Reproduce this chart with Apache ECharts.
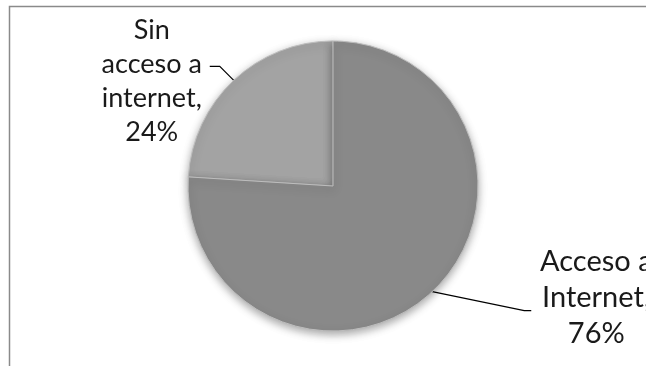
<!DOCTYPE html>
<html>
<head>
<meta charset="utf-8">
<script src="https://cdn.jsdelivr.net/npm/echarts@6/dist/echarts.min.js"></script>
<style>
  html, body { margin: 0; padding: 0; background: #fff; }
  #chart { width: 646px; height: 366px; }
</style>
</head>
<body>
<div id="chart"></div>
<script>
// datos del gráfico
const categories = ['Sin\nacceso a\ninternet', 'Acceso a\nInternet'];
const values = [24, 76];
const colors = ['#a3a3a3', '#898989'];

const chart = echarts.init(document.getElementById('chart'), null, { renderer: 'canvas' });

const pieData = categories.map((name, i) => ({
  name,
  value: values[i],
  itemStyle: { color: colors[i] },
  label: i === 1 ? { fontSize: 29, lineHeight: 36 } : {}
}));

// posición de etiquetas relativa al punto del borde del sector
function labelLayout(params) {
  const p0 = params.labelLinePoints[0];
  if (params.dataIndex === 0) {
    return {
      x: p0[0] - 82,
      y: p0[1] + 1,
      align: 'center',
      verticalAlign: 'middle',
      labelLinePoints: [p0, [p0[0] - 14, p0[1] - 14], [p0[0] - 24, p0[1] - 14]]
    };
  }
  return {
    x: p0[0] + 164,
    y: p0[1] + 6,
    align: 'center',
    verticalAlign: 'middle',
    labelLinePoints: [p0, [p0[0] + 92, p0[1] + 19], [p0[0] + 99, p0[1] + 19]]
  };
}

chart.setOption({
  animation: false,
  backgroundColor: '#fff',
  graphic: [{
    type: 'polyline',
    shape: { points: [[9.5, 400], [9.5, 6.5], [700, 6.5]] },
    style: { fill: 'none', stroke: '#8a8a8a', lineWidth: 1.5 },
    silent: true
  }],
  series: [{
    type: 'pie',
    center: [333, 186],
    radius: 145,
    startAngle: 90,
    clockwise: false,
    data: pieData,
    itemStyle: {
      borderColor: '#bdbdbd',
      borderWidth: 1,
      shadowBlur: 8,
      shadowOffsetY: 3,
      shadowColor: 'rgba(0,0,0,0.35)'
    },
    label: {
      show: true,
      position: 'outside',
      formatter: p => p.name + ',\n' + p.value + '%',
      fontFamily: 'Lato',
      fontSize: 27,
      lineHeight: 34,
      color: '#1a1a1a',
      align: 'center'
    },
    labelLine: {
      show: true,
      length: 15,
      length2: 10,
      lineStyle: { color: '#000', width: 1.2 }
    },
    labelLayout: labelLayout
  }]
});
</script>
</body>
</html>
